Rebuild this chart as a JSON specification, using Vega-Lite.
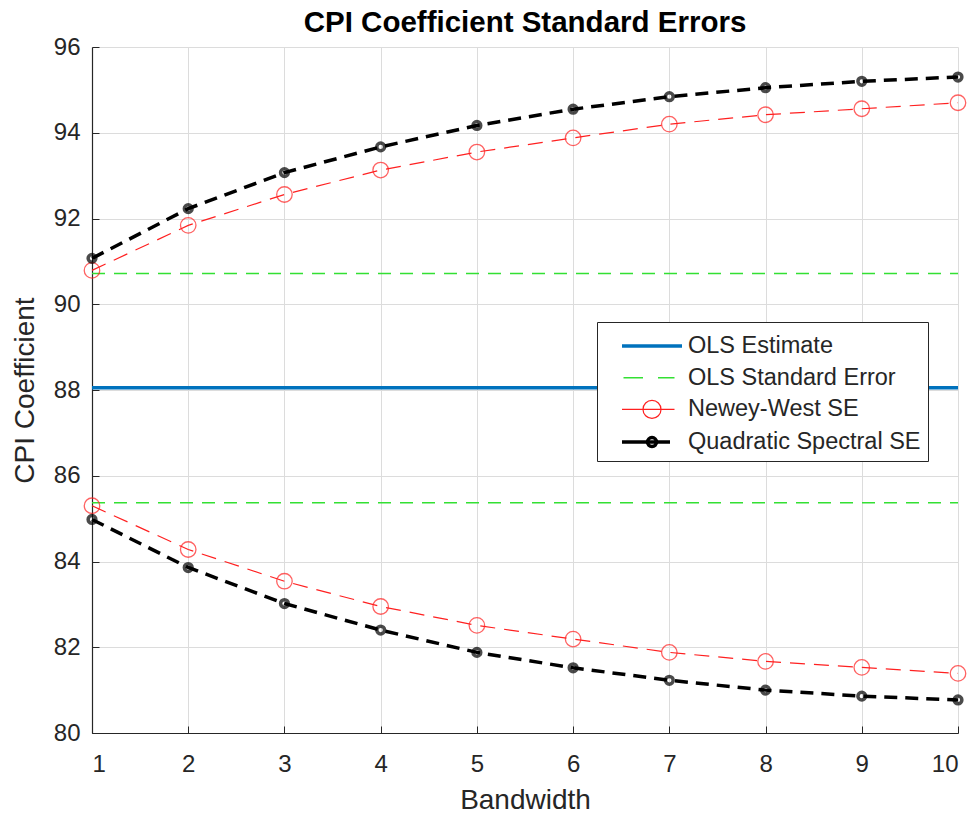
{
  "$schema": "https://vega.github.io/schema/vega-lite/v6.json",
  "width": 866,
  "height": 686,
  "autosize": {"type": "none"},
  "padding": {"left": 92, "top": 47, "right": 17, "bottom": 84},
  "background": "white",
  "title": {"text": "CPI Coefficient Standard Errors", "fontSize": 29.5, "fontWeight": "bold", "color": "#000000", "font": "Liberation Sans", "offset": -3},
  "config": {
    "view": {"stroke": null},
    "font": "Liberation Sans",
    "legend": {
      "orient": "none", "legendX": 505, "legendY": 275,
      "title": null, "symbolType": "stroke", "symbolSize": 900,
      "labelFontSize": 23.5, "labelColor": "#262626", "labelFont": "Liberation Sans",
      "strokeColor": "#262626", "fillColor": "white", "padding": 7,
      "symbolOffset": 31, "rowPadding": 3.7, "labelOffset": 19, "labelLimit": 400
    }
  },
  "data": {"values": [
    {"bw": 1, "value": 88.05, "series": "OLS Estimate", "band": "mid"},
    {"bw": 10, "value": 88.05, "series": "OLS Estimate", "band": "mid"},
    {"bw": 1, "value": 90.72, "series": "OLS Standard Error", "band": "upper"},
    {"bw": 10, "value": 90.72, "series": "OLS Standard Error", "band": "upper"},
    {"bw": 1, "value": 85.37, "series": "OLS Standard Error", "band": "lower"},
    {"bw": 10, "value": 85.37, "series": "OLS Standard Error", "band": "lower"},
    {"bw": 1, "value": 90.79, "series": "Newey-West SE", "band": "upper"},
    {"bw": 2, "value": 91.84, "series": "Newey-West SE", "band": "upper"},
    {"bw": 3, "value": 92.56, "series": "Newey-West SE", "band": "upper"},
    {"bw": 4, "value": 93.13, "series": "Newey-West SE", "band": "upper"},
    {"bw": 5, "value": 93.55, "series": "Newey-West SE", "band": "upper"},
    {"bw": 6, "value": 93.88, "series": "Newey-West SE", "band": "upper"},
    {"bw": 7, "value": 94.2, "series": "Newey-West SE", "band": "upper"},
    {"bw": 8, "value": 94.42, "series": "Newey-West SE", "band": "upper"},
    {"bw": 9, "value": 94.56, "series": "Newey-West SE", "band": "upper"},
    {"bw": 10, "value": 94.7, "series": "Newey-West SE", "band": "upper"},
    {"bw": 1, "value": 85.3, "series": "Newey-West SE", "band": "lower"},
    {"bw": 2, "value": 84.28, "series": "Newey-West SE", "band": "lower"},
    {"bw": 3, "value": 83.54, "series": "Newey-West SE", "band": "lower"},
    {"bw": 4, "value": 82.95, "series": "Newey-West SE", "band": "lower"},
    {"bw": 5, "value": 82.51, "series": "Newey-West SE", "band": "lower"},
    {"bw": 6, "value": 82.19, "series": "Newey-West SE", "band": "lower"},
    {"bw": 7, "value": 81.88, "series": "Newey-West SE", "band": "lower"},
    {"bw": 8, "value": 81.67, "series": "Newey-West SE", "band": "lower"},
    {"bw": 9, "value": 81.53, "series": "Newey-West SE", "band": "lower"},
    {"bw": 10, "value": 81.39, "series": "Newey-West SE", "band": "lower"},
    {"bw": 1, "value": 91.07, "series": "Quadratic Spectral SE", "band": "upper"},
    {"bw": 2, "value": 92.23, "series": "Quadratic Spectral SE", "band": "upper"},
    {"bw": 3, "value": 93.07, "series": "Quadratic Spectral SE", "band": "upper"},
    {"bw": 4, "value": 93.67, "series": "Quadratic Spectral SE", "band": "upper"},
    {"bw": 5, "value": 94.17, "series": "Quadratic Spectral SE", "band": "upper"},
    {"bw": 6, "value": 94.55, "series": "Quadratic Spectral SE", "band": "upper"},
    {"bw": 7, "value": 94.84, "series": "Quadratic Spectral SE", "band": "upper"},
    {"bw": 8, "value": 95.05, "series": "Quadratic Spectral SE", "band": "upper"},
    {"bw": 9, "value": 95.2, "series": "Quadratic Spectral SE", "band": "upper"},
    {"bw": 10, "value": 95.3, "series": "Quadratic Spectral SE", "band": "upper"},
    {"bw": 1, "value": 84.98, "series": "Quadratic Spectral SE", "band": "lower"},
    {"bw": 2, "value": 83.86, "series": "Quadratic Spectral SE", "band": "lower"},
    {"bw": 3, "value": 83.02, "series": "Quadratic Spectral SE", "band": "lower"},
    {"bw": 4, "value": 82.4, "series": "Quadratic Spectral SE", "band": "lower"},
    {"bw": 5, "value": 81.88, "series": "Quadratic Spectral SE", "band": "lower"},
    {"bw": 6, "value": 81.52, "series": "Quadratic Spectral SE", "band": "lower"},
    {"bw": 7, "value": 81.23, "series": "Quadratic Spectral SE", "band": "lower"},
    {"bw": 8, "value": 81.0, "series": "Quadratic Spectral SE", "band": "lower"},
    {"bw": 9, "value": 80.86, "series": "Quadratic Spectral SE", "band": "lower"},
    {"bw": 10, "value": 80.77, "series": "Quadratic Spectral SE", "band": "lower"}
  ]},
  "encoding": {
    "x": {"field": "bw", "type": "quantitative",
      "scale": {"domain": [1, 10], "nice": false, "zero": false},
      "axis": {"title": "Bandwidth", "values": [1,2,3,4,5,6,7,8,9,10], "format": "d",
        "titleFontSize": 28, "titleFontWeight": "normal", "titleColor": "#262626", "titlePadding": 10,
        "labelFontSize": 24, "labelColor": "#262626", "labelPadding": 26,
        "tickSize": -7, "tickColor": "#262626", "domainColor": "#262626", "domainWidth": 1.2,
        "grid": true, "gridColor": "#dcdcdc", "gridWidth": 1}},
    "y": {"field": "value", "type": "quantitative",
      "scale": {"domain": [80, 96], "nice": false, "zero": false},
      "axis": {"title": "CPI Coefficient", "values": [80,82,84,86,88,90,92,94,96], "format": "d",
        "titleFontSize": 28, "titleFontWeight": "normal", "titleColor": "#262626", "titlePadding": 14,
        "labelFontSize": 24, "labelColor": "#262626", "labelPadding": 19,
        "tickSize": -7, "tickColor": "#262626", "domainColor": "#262626", "domainWidth": 1.2,
        "grid": true, "gridColor": "#dcdcdc", "gridWidth": 1}}
  },
  "layer": [
    {
      "mark": {"type": "line", "clip": false},
      "encoding": {
        "color": {"field": "series", "type": "nominal",
          "scale": {"domain": ["OLS Estimate", "OLS Standard Error", "Newey-West SE", "Quadratic Spectral SE"],
                    "range": ["#0072BD", "#33e033", "#ff2020", "#000000"]},
          "legend": {
            "encode": {"symbols": {"update": {
              "shape": {"signal": "datum.value === 'OLS Estimate' ? 'M-2,0H2' : datum.value === 'OLS Standard Error' ? 'M-1.9,0H-0.6M0.4,0H1.5' : datum.value === 'Newey-West SE' ? 'M-2,0H1.5M-0.6,0A0.6,0.6 0 1,0 0.6,0A0.6,0.6 0 1,0 -0.6,0' : 'M-2,0H1.2M-0.3,0A0.3,0.3 0 1,0 0.3,0A0.3,0.3 0 1,0 -0.3,0'"},
              "strokeWidth": {"signal": "datum.value === 'OLS Estimate' || datum.value === 'Quadratic Spectral SE' ? 3.5 : 1.3"},
              "fill": {"value": "transparent"}
            }}}
          }},
        "strokeDash": {
          "condition": [
            {"test": "datum.series === 'OLS Standard Error'", "value": [13, 9]},
            {"test": "datum.series === 'Newey-West SE'", "value": [15, 9]},
            {"test": "datum.series === 'Quadratic Spectral SE'", "value": [13, 8]}
          ],
          "value": [1, 0]},
        "strokeWidth": {"field": "series", "type": "nominal", "legend": null,
          "scale": {"type": "ordinal", "domain": ["OLS Estimate", "OLS Standard Error", "Newey-West SE", "Quadratic Spectral SE"],
                    "range": [3.5, 1.5, 1.2, 3.5]}},
        "detail": {"field": "band"}
      }
    },
    {
      "transform": [{"filter": "datum.series === 'Newey-West SE'"}],
      "mark": {"type": "point", "shape": "circle", "filled": false, "size": 240, "strokeWidth": 1.3, "color": "#ff2020", "clip": false},
      "encoding": {"detail": {"field": "band"}}
    },
    {
      "transform": [{"filter": "datum.series === 'Quadratic Spectral SE'"}],
      "mark": {"type": "point", "shape": "circle", "filled": false, "size": 60, "strokeWidth": 3.5, "color": "#000000", "clip": false},
      "encoding": {"detail": {"field": "band"}}
    }
  ]
}
